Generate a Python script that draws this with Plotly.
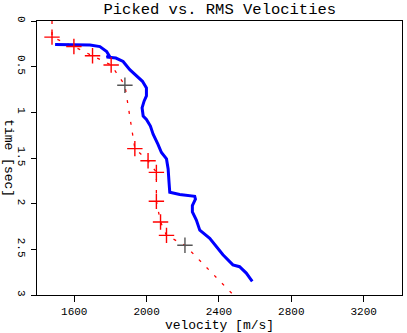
import plotly.graph_objects as go

# RMS velocity curve (blue)
rms_v = [1494, 1687, 1742, 1779, 1793, 1779, 1830, 1870, 1907, 1940, 1977, 1999, 1999,
         1986, 1975, 1981, 1999, 2021, 2036, 2063, 2082, 2110, 2119, 2124, 2128, 2183,
         2266, 2270, 2253, 2253, 2275, 2294, 2349, 2422, 2477, 2514, 2551, 2584]
rms_t = [0.258, 0.264, 0.28, 0.334, 0.38, 0.395, 0.406, 0.443, 0.533, 0.598, 0.66, 0.733, 0.82,
         0.878, 0.95, 1.04, 1.077, 1.15, 1.24, 1.35, 1.44, 1.51, 1.62, 1.766, 1.875, 1.90,
         1.92, 1.95, 2.02, 2.09, 2.18, 2.29, 2.38, 2.56, 2.67, 2.69, 2.76, 2.85]

# Picked velocity line (red dashed)
pick_line_v = [1477, 1477, 1598, 1701, 1804, 1880, 1935, 2008, 2054, 2054, 2077, 2110, 2212, 2480]
pick_line_t = [0.0, 0.177, 0.28, 0.381, 0.482, 0.704, 1.397, 1.53, 1.657, 1.973, 2.20, 2.347, 2.456, 3.0]

# Picks (markers)
pick_v = [1477, 1598, 1701, 1804, 1935, 2008, 2054, 2054, 2077, 2110]
pick_t = [0.177, 0.28, 0.381, 0.482, 1.397, 1.53, 1.657, 1.973, 2.20, 2.347]
gray_v = [1880, 2212]
gray_t = [0.704, 2.456]

x_ticks = [1600, 2000, 2400, 2800, 3200]
y_ticks = [0, 0.5, 1, 1.5, 2, 2.5, 3]
y_tick_text = ["0", "0.5", "1", "1.5", "2", "2.5", "3"]

font_family = "Liberation Mono, Courier New, monospace"

fig = go.Figure()
fig.add_trace(go.Scatter(x=pick_line_v, y=pick_line_t, mode="lines",
                         line=dict(color="red", width=1.3, dash="3px,8px"),
                         showlegend=False))
fig.add_trace(go.Scatter(x=rms_v, y=rms_t, mode="lines",
                         line=dict(color="#0000ff", width=3),
                         showlegend=False))
fig.add_trace(go.Scatter(x=pick_v, y=pick_t, mode="markers",
                         marker=dict(symbol="cross-thin", size=11,
                                     line=dict(color="red", width=1.4)),
                         showlegend=False))
fig.add_trace(go.Scatter(x=gray_v, y=gray_t, mode="markers",
                         marker=dict(symbol="cross-thin", size=11,
                                     line=dict(color="#555555", width=1.4)),
                         showlegend=False))

fig.update_layout(
    width=407, height=333,
    margin=dict(l=37, r=4, t=21, b=36),
    plot_bgcolor="white", paper_bgcolor="white",
    font=dict(family=font_family, color="black"),
    title=dict(text="Picked vs. RMS Velocities", x=0.54, xanchor="center",
               y=0.975, yanchor="middle",
               font=dict(size=15.5, family=font_family, color="black")),
    xaxis=dict(range=[1394, 3412], tickvals=x_ticks, ticks="outside", ticklen=6,
               tickcolor="black", showgrid=False, zeroline=False,
               showline=True, linecolor="black", linewidth=1.3, mirror=True,
               tickfont=dict(size=11, family=font_family),
               title=dict(text="velocity [m/s]", standoff=2,
                          font=dict(size=13, family=font_family))),
    yaxis=dict(range=[3, 0], tickvals=y_ticks, ticktext=y_tick_text, ticks="outside",
               ticklen=5, tickcolor="black", showgrid=False, zeroline=False,
               showline=True, linecolor="black", linewidth=1.3, mirror=True,
               tickangle=90, tickfont=dict(size=11, family=font_family)),
    annotations=[dict(text="time [sec]", xref="paper", yref="paper",
                      x=-0.077, y=0.5, xanchor="center", yanchor="middle",
                      textangle=90, showarrow=False,
                      font=dict(size=13, family=font_family))],
)

fig.write_html("out.html")
